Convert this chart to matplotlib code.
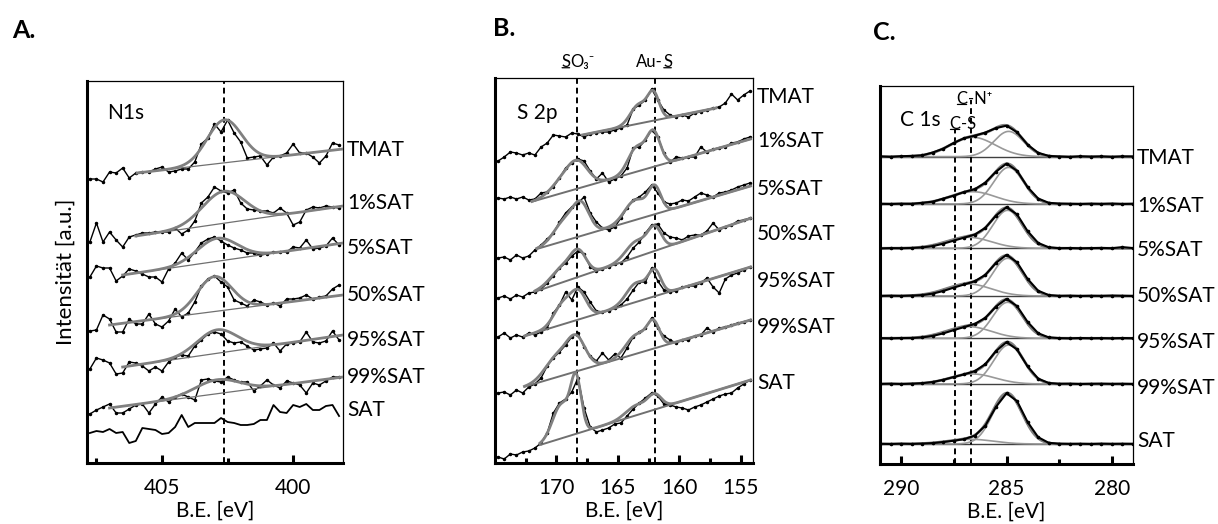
import matplotlib
matplotlib.use("Agg")
import matplotlib.pyplot as plt
import matplotlib.transforms as mtransforms
import numpy as np

plt.rcParams['font.family'] = ['Lato', 'DejaVu Sans']

SAMPLES = ["TMAT", "1%SAT", "5%SAT", "50%SAT", "95%SAT", "99%SAT", "SAT"]

# ---------------- A. N 1s ----------------
N1S_ENERGY = np.linspace(407.75, 398.25, 39)
N1S_TMAT = [4, 4, 1, 11, 10, 15, 5, 10, 11, 11, 14, 16, 11, 12, 14, 14, 21, 39, 45, 59,
            51, 63, 50, 41, 25, 26, 27, 18, 26, 27, 30, 39, 30, 30, 26, 20, 27, 40, 38]
N1S_1SAT = [1, 20, 1, 11, 3, -4, 6, 8, 10, 10, 11, 11, 11, 15, 9, 13, 22, 40, 46, 56,
            52, 50, 53, 40, 34, 33, 32, 32, 30, 35, 30, 18, 21, 33, 36, 35, 37, 36, 35]
N1S_5SAT = [1, 12, 10, 10, -3, 2, 9, 7, 4, 1, 1, -4, 9, 15, 25, 18, 26, 35, 39, 41,
            37, 33, 30, 28, 25, 25, 23, 24, 26, 26, 26, 31, 30, 38, 29, 30, 32, 40, 33]
N1S_50SAT = [2, 3, 18, 14, 1, 1, 14, 9, 9, 19, 9, 6, 12, 24, 16, 20, 31, 47, 54, 57,
             51, 46, 33, 30, 27, 33, 31, 28, 30, 27, 34, 34, 35, 38, 34, 36, 37, 44, 48]
N1S_95SAT = [4, 15, 13, 10, -1, 0, 11, 10, 7, 2, 6, 2, 11, 16, 18, 17, 27, 33, 39, 41,
             39, 32, 30, 31, 27, 23, 24, 25, 30, 22, 29, 30, 31, 41, 31, 30, 32, 42, 33]
N1S_99SAT = [-1, 3, 6, 9, 0, 0, 4, 8, 9, 0, 9, 16, 11, 16, 19, 16, 13, 33, 34, 32,
             31, 36, 33, 31, 31, 22, 27, 33, 28, 25, 32, 30, 28, 20, 30, 28, 32, 36, 36]
N1S_SAT = [10, 12, 11, 14, 10, 11, 0, 2, 15, 14, 13, 9, 10, 16, 28, 16, 20, 20, 20, 20,
           25, 21, 20, 18, 18, 19, 23, 23, 38, 31, 30, 38, 36, 39, 33, 33, 37, 38, 27]
N1S_SPECTRA = [N1S_TMAT, N1S_1SAT, N1S_5SAT, N1S_50SAT, N1S_95SAT, N1S_99SAT, N1S_SAT]
# fit: linear background (eV start, value, eV end, value) + peaks (centre, height, fwhm)
N1S_BACKGROUND = [(405.95, 10, 398.1, 34), (406.0, 7, 398.1, 37), (406.5, 3, 398.1, 35),
                  (407.0, 8, 398.1, 38), (406.5, 6, 398.1, 38), (407.0, 5, 398.1, 36), None]
N1S_PEAKS = [[(402.62, 43, 1.55)], [(402.65, 32, 1.9)], [(402.9, 23, 1.8)],
             [(403.0, 35, 1.55)], [(402.9, 23.5, 1.8)], [(402.9, 14, 2.0)], []]
N1S_MARK = [402.62]

# ---------------- B. S 2p ----------------
S2P_ENERGY = np.linspace(174.75, 154.25, 42)
S2P_TMAT = [2, 6, 11, 10, 8, 10, 8, 16, 20, 28, 27, 26, 30, 29, 26, 29, 30, 31, 31, 33, 35,
            38, 54, 58, 63, 74, 63, 53, 48, 46, 48, 46, 50, 51, 53, 55, 56, 60, 69, 63, 68, 72]
S2P_1SAT = [5, 4, 6, 4, 6, 3, 4, 10, 11, 16, 25, 35, 40, 44, 42, 32, 24, 30, 21, 24, 27,
            35, 55, 56, 63, 73, 66, 50, 41, 46, 45, 46, 46, 56, 51, 54, 55, 56, 60, 61, 64, 66]
S2P_5SAT = [5, 6, 3, 8, 5, 7, 13, 18, 24, 30, 41, 50, 56, 60, 66, 50, 41, 35, 33, 36, 45,
            55, 63, 66, 71, 78, 70, 61, 59, 60, 63, 62, 66, 70, 68, 66, 70, 71, 73, 76, 78, 80]
S2P_50SAT = [5, 7, 4, 8, 6, 10, 11, 14, 20, 27, 35, 40, 47, 52, 49, 36, 32, 34, 36, 39, 40,
             46, 55, 61, 70, 78, 79, 70, 66, 65, 63, 67, 68, 68, 72, 80, 73, 76, 78, 82, 83, 85]
S2P_95SAT = [1, 5, 0, 3, 1, 5, 3, 6, 10, 25, 33, 46, 38, 51, 46, 36, 27, 26, 27, 30, 33,
             39, 48, 56, 56, 70, 57, 48, 46, 47, 51, 52, 52, 55, 60, 51, 45, 59, 63, 65, 68, 71]
S2P_99SAT = [0, 1, -2, 3, 0, 6, 9, 15, 27, 35, 41, 48, 56, 60, 46, 37, 32, 40, 33, 39, 35,
             45, 56, 61, 65, 75, 65, 57, 53, 50, 53, 53, 57, 58, 65, 61, 65, 66, 68, 70, 71, 73]
S2P_SAT = [1, -1, 4, 3, 6, 7, 10, 15, 25, 45, 55, 59, 66, 80, 50, 31, 26, 28, 30, 34, 35,
           42, 49, 55, 60, 65, 62, 54, 53, 51, 50, 48, 51, 53, 56, 59, 62, 64, 65, 70, 74, 78]
S2P_SPECTRA = [S2P_TMAT, S2P_1SAT, S2P_5SAT, S2P_50SAT, S2P_95SAT, S2P_99SAT, S2P_SAT]
S2P_BACKGROUND = [(167.9, 28, 157.0, 55), (172.0, 1.3, 154.2, 64), (171.6, 14, 154.2, 77),
                  (171.75, 11.3, 154.2, 84.7), (172.6, 2, 154.2, 71), (172.6, 6.3, 154.2, 73),
                  (171.35, 13, 154.2, 78)]
S2P_PEAKS = [
    [(162.1, 26, 1.1), (163.3, 19, 1.6)],
    [(168.3, 26, 2.0), (169.7, 10, 2.0), (162.1, 34, 1.3), (163.5, 24, 1.6)],
    [(168.0, 30, 1.6), (169.4, 19, 2.0), (162.0, 26, 1.2), (163.6, 20, 2.0)],
    [(168.2, 22, 1.5), (169.5, 15, 2.2), (162.0, 22, 1.3), (163.5, 16, 2.0)],
    [(168.2, 26, 1.5), (169.5, 20, 1.7), (162.0, 24, 1.2), (163.5, 19, 1.9)],
    [(168.4, 32, 1.8), (170.0, 20, 2.2), (162.1, 24, 1.2), (163.5, 19, 2.0)],
    [(168.4, 52, 1.0), (169.6, 34, 1.7), (162.0, 14, 1.3), (163.5, 10, 2.0)],
]
S2P_MARKS = [168.3, 162.0]

# ---------------- C. C 1s ----------------
C1S_ENERGY = np.linspace(291, 279, 25)
C1S_TMAT = [0.3, -0.2, 0.5, 0.8, 1.3, 4.2, 8.0, 13.8, 18.6, 21.0, 24.2, 28.6, 31.0,
            24.5, 12.0, 3.9, 0.8, 0.2, -0.3, 0.4, 0.0, 0.3, -0.2, 0.3, 0.2]
C1S_1SAT = [0.2, 0.0, 0.3, 0.1, 1.2, 2.3, 5.4, 8.4, 12.1, 14.8, 21.5, 32.3, 40.4,
            33.2, 16.9, 5.5, 1.2, 0.4, 0.2, 0.0, 0.3, 0.1, 0.4, 0.0, 0.2]
C1S_5SAT = [-0.1, 0.2, 0.1, 0.3, 0.9, 2.2, 4.6, 7.7, 10.7, 13.8, 20.5, 32.7, 41.1,
            33.9, 17.2, 5.4, 1.0, 0.1, 0.3, 0.0, 0.2, 0.4, 0.1, 1.2, 0.2]
C1S_50SAT = [0.1, 0.3, 0.1, 0.4, 0.9, 2.4, 5.0, 8.4, 11.6, 14.8, 21.2, 33.1, 41.2,
             33.7, 17.1, 5.3, 0.9, 0.1, 0.3, 0.0, 0.2, 0.1, 0.4, 0.2, 0.0]
C1S_95SAT = [0.2, 0.0, 0.3, 0.3, 0.9, 2.4, 4.9, 8.2, 11.3, 14.4, 20.5, 31.7, 39.4,
             32.2, 16.4, 5.1, 0.9, 0.2, 0.0, 0.3, 0.1, 0.2, 0.0, 0.3, 0.1]
C1S_99SAT = [0.1, 0.3, 0.0, 0.3, 0.8, 2.0, 4.2, 7.0, 9.7, 12.9, 19.9, 32.9, 41.8,
             34.6, 17.6, 5.4, 1.0, 0.2, 0.3, 0.0, 0.2, 0.3, 0.1, 0.2, 0.0]
C1S_SAT = [0.2, 0.0, 0.3, 0.1, 0.4, 0.9, 2.0, 3.3, 4.9, 8.4, 18.5, 37.1, 50.7,
           42.9, 22.0, 6.8, 1.2, 0.3, 0.1, 0.2, 0.0, 0.3, 0.1, 0.2, 0.1]
C1S_SPECTRA = [C1S_TMAT, C1S_1SAT, C1S_5SAT, C1S_50SAT, C1S_95SAT, C1S_99SAT, C1S_SAT]
C1S_PEAKS = [
    [(284.9, 25.3, 1.65), (286.6, 19.4, 2.5)],
    [(284.9, 36.6, 1.65), (286.6, 12.3, 2.5)],
    [(284.95, 38.0, 1.65), (286.8, 11.0, 2.5)],
    [(284.95, 37.7, 1.65), (286.8, 12.0, 2.5)],
    [(284.95, 36.0, 1.65), (286.8, 11.7, 2.5)],
    [(284.9, 39.0, 1.65), (286.6, 10.0, 2.5)],
    [(284.95, 49.7, 1.65), (286.7, 4.7, 2.5)],
]
C1S_MARKS = [287.45, 286.7]

# ---------------- layout ----------------
W, H = 1218, 524
A_OFFSETS = [280, 220, 185, 130, 90, 50, 20]
A_LABEL_Y = [313, 260, 215, 168, 123, 86, 53]
B_OFFSETS = [300, 260, 200, 160, 125, 70, 5]
B_LABEL_Y = [366, 322, 274, 229, 182, 136, 80]
C_OFFSETS = [307.3, 260, 215.7, 168, 125.7, 80, 20]
C_LABEL_Y = [306, 258, 214, 168, 122, 76, 23]

FIT_GREY = "#808080"
BASE_GREY = "#707070"
DASH = (0, (3, 2))


def gauss(x, centre, height, fwhm):
    return height * np.exp(-4 * np.log(2) * ((x - centre) / fwhm) ** 2)


def pixel_axes(fig, left, top, right, bottom):
    return fig.add_axes([left / W, 1 - bottom / H, (right - left) / W, (bottom - top) / H])


def style_axis(ax, xlim, ylim, major, minor):
    ax.set_xlim(*xlim)
    ax.set_ylim(*ylim)
    ax.set_xticks(major)
    ax.set_xticks(minor, minor=True)
    ax.set_yticks([])
    ax.tick_params(axis='x', which='major', direction='in', length=6, width=2.2,
                   labelsize=15, pad=10.5)
    ax.tick_params(axis='x', which='minor', direction='in', length=3.5, width=2.2)
    for side in ['left', 'bottom']:
        ax.spines[side].set_linewidth(2.2)
    for side in ['top', 'right']:
        ax.spines[side].set_linewidth(0.9)
    ax.set_xlabel("B.E. [eV]", fontsize=15, labelpad=2)


def label_rows(ax, ys):
    trans = mtransforms.blended_transform_factory(ax.transAxes, ax.transData)
    for name, y in zip(SAMPLES, ys):
        ax.text(1.015, y, name, transform=trans, ha='left', va='center', fontsize=15)


def underlined_label(ax, x, y, parts, fontsize, transform=None):
    # parts: (text, underline?) pieces written one after another
    if transform is None:
        transform = ax.transData
    prev = ax.text(x, y, parts[0][0], transform=transform, fontsize=fontsize,
                   ha='left', va='bottom')
    pieces = [(prev, parts[0][1])]
    for text, under in parts[1:]:
        t = ax.annotate(text, xy=(1, 0), xycoords=prev, ha='left', va='bottom',
                        fontsize=fontsize)
        pieces.append((t, under))
        prev = t
    for t, under in pieces:
        if under:
            ax.annotate('', xy=(0.08, 0.16), xycoords=t, xytext=(0.92, 0.16), textcoords=t,
                        arrowprops=dict(arrowstyle='-', lw=0.9, color='black',
                                        shrinkA=0, shrinkB=0))


def draw_fit(ax, offset, background, peaks, base_lw):
    x0, y0, x1, y1 = background
    x = np.linspace(x0, x1, 400)
    base = y0 + (y1 - y0) * (x - x0) / (x1 - x0)
    total = base.copy()
    for centre, height, fwhm in peaks:
        total = total + gauss(x, centre, height, fwhm)
    ax.plot(x, offset + base, color=BASE_GREY, lw=base_lw, zorder=3)
    ax.plot(x, offset + total, color=FIT_GREY, lw=2.0, zorder=3)


fig = plt.figure(figsize=(W / 100, H / 100), dpi=100)

# ---- panel A ----
axA = pixel_axes(fig, 87, 81, 343, 463)
for i in range(len(SAMPLES)):
    y = np.array(N1S_SPECTRA[i]) + A_OFFSETS[i]
    if N1S_BACKGROUND[i] is None:
        axA.plot(N1S_ENERGY, y, color='black', lw=1.3, zorder=2)
    else:
        axA.plot(N1S_ENERGY, y, color='black', lw=1.0, marker='o', ms=1.5, zorder=2)
        draw_fit(axA, A_OFFSETS[i], N1S_BACKGROUND[i], N1S_PEAKS[i], 0.9)
for m in N1S_MARK:
    axA.axvline(m, color='black', lw=1.4, ls=DASH, zorder=1)
style_axis(axA, (407.86, 398.1), (0, 382), [405, 400], [407.5, 402.5])
label_rows(axA, A_LABEL_Y)
axA.text(0.08, 0.915, "N1s", transform=axA.transAxes, fontsize=15, va='center')
axA.set_ylabel("Intensität [a.u.]", fontsize=16, labelpad=8)

# ---- panel B ----
axB = pixel_axes(fig, 495, 78, 753, 463)
for i in range(len(SAMPLES)):
    y = np.array(S2P_SPECTRA[i]) + B_OFFSETS[i]
    axB.plot(S2P_ENERGY, y, color='black', lw=1.0, marker='o', ms=1.5, zorder=2)
    draw_fit(axB, B_OFFSETS[i], S2P_BACKGROUND[i], S2P_PEAKS[i], 1.4)
for m in S2P_MARKS:
    axB.axvline(m, color='black', lw=1.4, ls=DASH, zorder=1)
style_axis(axB, (175, 154), (0, 385), [170, 165, 160, 155], [172.5, 167.5, 162.5, 157.5])
label_rows(axB, B_LABEL_Y)
axB.text(0.085, 0.91, "S 2p", transform=axB.transAxes, fontsize=15, va='center')
top = axB.get_xaxis_transform()
underlined_label(axB, 169.6, 1.02, [("S", True), ("O\u2083\u207b", False)], 12, top)
underlined_label(axB, 163.5, 1.02, [("Au-", False), ("S", True)], 12, top)

# ---- panel C ----
axC = pixel_axes(fig, 880, 86, 1133, 464)
xs = np.linspace(291, 279, 400)
for i in range(len(SAMPLES)):
    off = C_OFFSETS[i]
    axC.axhline(off, color='#404040', lw=1.0, zorder=1)
    total = np.zeros_like(xs)
    for centre, height, fwhm in C1S_PEAKS[i]:
        comp = gauss(xs, centre, height, fwhm)
        total = total + comp
        axC.plot(xs, off + comp, color='#999999', lw=1.2, zorder=2)
    axC.plot(xs, off + total, color=FIT_GREY, lw=2.0, zorder=2)
    axC.plot(C1S_ENERGY, np.array(C1S_SPECTRA[i]) + off, color='black', lw=1.5,
             marker='o', ms=1.6, zorder=3)
axC.vlines(C1S_MARKS[0], 0, 334, color='black', lw=1.4, linestyles=DASH, zorder=1)
axC.vlines(C1S_MARKS[1], 0, 364, color='black', lw=1.4, linestyles=DASH, zorder=1)
style_axis(axC, (291, 279), (0, 378), [290, 285, 280], [287.5, 282.5])
label_rows(axC, C_LABEL_Y)
axC.text(0.08, 0.91, "C 1s", transform=axC.transAxes, fontsize=15, va='center')
underlined_label(axC, 287.37, 357, [("C", True), ("-N\u207a", False)], 12)
underlined_label(axC, 287.7, 332, [("C", True), ("-S", False)], 12)

# ---- panel letters ----
fig.text(12 / W, 1 - 31 / H, "A.", fontsize=18, fontweight='bold', va='center')
fig.text(493 / W, 1 - 29 / H, "B.", fontsize=18, fontweight='bold', va='center')
fig.text(873 / W, 1 - 32 / H, "C.", fontsize=18, fontweight='bold', va='center')

fig.savefig("out.png", dpi=100)
